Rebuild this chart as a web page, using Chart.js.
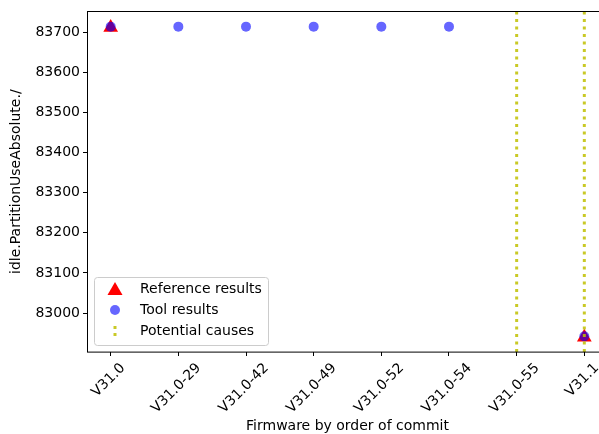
<!DOCTYPE html>
<html>
<head>
<meta charset="utf-8">
<script src="https://cdn.jsdelivr.net/npm/chart.js@4.4.1/dist/chart.umd.min.js"></script>
<style>
  html, body { margin: 0; padding: 0; background: #fff; overflow: hidden; }
  #wrap { width: 599px; height: 434px; overflow: hidden; }
</style>
</head>
<body>
<div id="wrap"><canvas id="chart" width="620" height="434"></canvas></div>
<script>
// firmware builds, in commit order
const firmwares = ["V31.0", "V31.0-29", "V31.0-42", "V31.0-49", "V31.0-52", "V31.0-54", "V31.0-55", "V31.1"];
const referenceResults = [83712, null, null, null, null, null, null, 82940];
const toolResults = [83714, 83714, 83714, 83714, 83714, 83714, null, 82942];
const potentialCauses = ["V31.0-55", "V31.1"];
const yTicks = [83000, 83100, 83200, 83300, 83400, 83500, 83600, 83700];
const yMin = 82903, yMax = 83752;

const FONT = '"DejaVu Sans", sans-serif';
const causeColor = "rgba(191,191,0,0.85)";

function points(values) {
  return values.map((v, i) => ({ x: i, y: v })).filter(p => p.y !== null);
}

const causeSets = potentialCauses.map(name => {
  const i = firmwares.indexOf(name);
  return {
    label: "Potential causes",
    data: [{ x: i, y: yMin }, { x: i, y: yMax }],
    showLine: true,
    borderColor: causeColor,
    borderWidth: 3,
    borderDash: [3, 4.5],
    borderCapStyle: "butt",
    pointRadius: 0,
    order: 0
  };
});

// frame, rotated x labels and the legend box, matplotlib style
const overlay = {
  id: "overlay",
  afterDraw(chart) {
    const { ctx, chartArea: a, scales: { x } } = chart;
    ctx.save();
    ctx.strokeStyle = "#000";
    ctx.lineWidth = 1;
    ctx.strokeRect(Math.round(a.left) + 0.5, Math.round(a.top) + 0.5, a.right - a.left, a.bottom - a.top);

    ctx.font = "14px " + FONT;
    ctx.fillStyle = "#000";
    ctx.textAlign = "center";
    ctx.textBaseline = "middle";
    firmwares.forEach((label, i) => {
      const px = x.getPixelForValue(i);
      const w = ctx.measureText(label).width;
      const H = (w + 14) * Math.SQRT1_2;
      ctx.save();
      ctx.translate(px - 2, a.bottom + 9 + H / 2);
      ctx.rotate(-Math.PI / 4);
      ctx.fillText(label, 0, 0);
      ctx.restore();
    });

    // legend
    const bx = a.left + 7, bw = 174, bh = 68, by = a.bottom - 7 - bh;
    ctx.beginPath();
    ctx.roundRect(bx + 0.5, by + 0.5, bw, bh, 3);
    ctx.fillStyle = "rgba(255,255,255,0.8)";
    ctx.fill();
    ctx.strokeStyle = "#cccccc";
    ctx.stroke();

    const mx = bx + 21, tx = bx + 46;
    const rows = [by + 12, by + 33, by + 54];
    // triangle
    ctx.fillStyle = "red";
    ctx.beginPath();
    ctx.moveTo(mx, rows[0] - 7);
    ctx.lineTo(mx + 7.5, rows[0] + 6);
    ctx.lineTo(mx - 7.5, rows[0] + 6);
    ctx.closePath();
    ctx.fill();
    // circle
    ctx.fillStyle = "rgba(0,0,255,0.6)";
    ctx.beginPath();
    ctx.arc(mx, rows[1], 5, 0, Math.PI * 2);
    ctx.fill();
    // dotted marker
    ctx.fillStyle = causeColor;
    ctx.fillRect(mx - 1.5, rows[2] - 5, 3, 3);
    ctx.fillRect(mx - 1.5, rows[2] + 2, 3, 3);

    ctx.fillStyle = "#000";
    ctx.textAlign = "left";
    ctx.fillText("Reference results", tx, rows[0]);
    ctx.fillText("Tool results", tx, rows[1]);
    ctx.fillText("Potential causes", tx, rows[2]);
    ctx.restore();
  }
};

new Chart(document.getElementById("chart"), {
  type: "scatter",
  data: {
    datasets: [
      {
        label: "Reference results",
        data: points(referenceResults),
        pointStyle: "triangle",
        pointRadius: 8.5,
        pointHoverRadius: 8.5,
        backgroundColor: "red",
        borderWidth: 0,
        order: 2
      },
      {
        label: "Tool results",
        data: points(toolResults),
        pointStyle: "circle",
        pointRadius: 5,
        pointHoverRadius: 5,
        backgroundColor: "rgba(0,0,255,0.6)",
        borderWidth: 0,
        order: 1
      },
      ...causeSets
    ]
  },
  options: {
    responsive: false,
    animation: false,
    layout: { padding: { top: 10, right: 12, bottom: 0, left: 0 } },
    plugins: { legend: { display: false }, tooltip: { enabled: false } },
    scales: {
      x: {
        type: "linear",
        min: -0.35,
        max: 7.35,
        afterBuildTicks: s => { s.ticks = firmwares.map((f, i) => ({ value: i })); },
        afterFit: s => { s.height = 82; },
        ticks: { display: false },
        grid: { drawOnChartArea: false, tickLength: 4, color: "#000" },
        border: { display: false },
        title: {
          display: true,
          text: "Firmware by order of commit",
          color: "#000",
          font: { family: FONT, size: 14 },
          padding: { top: 0, bottom: -1 }
        }
      },
      y: {
        min: yMin,
        max: yMax,
        afterBuildTicks: s => { s.ticks = yTicks.map(v => ({ value: v })); },
        afterFit: s => { s.width = 87; },
        ticks: { color: "#000", padding: 3, font: { family: FONT, size: 14 }, callback: v => String(v) },
        grid: { drawOnChartArea: false, tickLength: 4, color: "#000" },
        border: { display: false },
        title: {
          display: true,
          text: "idle.PartitionUseAbsolute./",
          color: "#000",
          font: { family: FONT, size: 14 },
          padding: { top: 8, bottom: 0 }
        }
      }
    }
  },
  plugins: [overlay]
});
</script>
</body>
</html>
